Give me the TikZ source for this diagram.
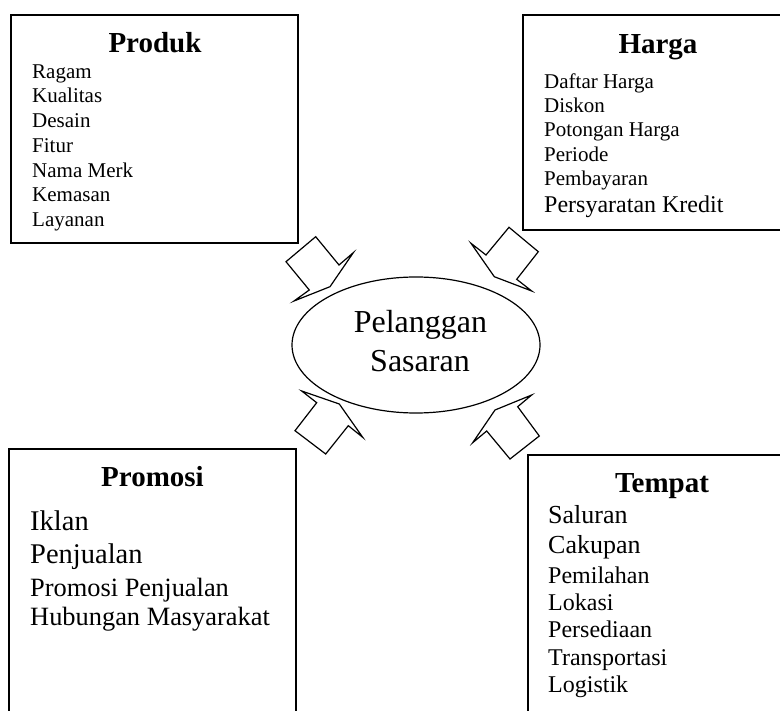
\documentclass[tikz,border=0pt]{standalone}
\usepackage{fontspec}
\setmainfont{Liberation Serif}
\usetikzlibrary{shapes.geometric}

\begin{document}
\begin{tikzpicture}[x=1pt,y=-1pt,
    kotak/.style={draw,line width=1.6pt,rectangle,inner sep=0pt},
    judul/.style={anchor=base,inner sep=0pt,font=\fontsize{29}{34}\selectfont\bfseries},
    isi/.style={anchor=base west,inner sep=0pt,font=\fontsize{21}{25}\selectfont},
    isibesar/.style={isi,font=\fontsize{26}{31}\selectfont},
    panah/.style={draw,line width=1.2pt,line join=miter,fill=white}]
    \useasboundingbox (0,0) rectangle (780,711);
    \clip (0,0) rectangle (780,711);

    % kotak bauran pemasaran
    \node[kotak,minimum width=287pt,minimum height=228pt] (produk) at (154.5,129) {};
    \node[kotak,minimum width=267pt,minimum height=215pt] (harga) at (656.5,122.5) {};
    \node[kotak,minimum width=287pt,minimum height=271pt] (promosi) at (152.5,584.5) {};
    \node[kotak,minimum width=262pt,minimum height=265pt] (tempat) at (659,587.5) {};

    \node[judul] (produkjudul) at (155,53) {Produk};
    \node[judul] (hargajudul) at (658,54) {Harga};
    \node[judul] (promosijudul) at (152.5,487) {Promosi};
    \node[judul] (tempatjudul) at (662,493) {Tempat};

    \foreach \teks/\y [count=\i] in {Ragam/79,Kualitas/103,Desain/128,Fitur/153,
        Nama Merk/178,Kemasan/202,Layanan/227}
        \node[isi] (produk\i) at (32,\y) {\teks};

    \foreach \teks/\y [count=\i] in {Daftar Harga/89,Diskon/113,Potongan Harga/137,
        Periode/162,Pembayaran/186}
        \node[isi] (harga\i) at (544,\y) {\teks};
    \node[isi,font=\fontsize{24}{29}\selectfont] (harga6) at (544,213) {Persyaratan Kredit};

    \node[isibesar,font=\fontsize{28.5}{34}\selectfont] (promosi1) at (30,530) {Iklan};
    \node[isibesar,font=\fontsize{28.5}{34}\selectfont] (promosi2) at (30,563) {Penjualan};
    \node[isibesar,font=\fontsize{26.4}{32}\selectfont] (promosi3) at (30,596) {Promosi Penjualan};
    \node[isibesar,font=\fontsize{26.4}{32}\selectfont] (promosi4) at (30,625) {Hubungan Masyarakat};

    \node[isibesar] (tempat1) at (548,523) {Saluran};
    \node[isibesar] (tempat2) at (548,553) {Cakupan};
    \foreach \teks/\y [count=\i from 3] in {Pemilahan/583,Lokasi/610,Persediaan/637,
        Transportasi/665,Logistik/692}
        \node[isi,font=\fontsize{24}{29}\selectfont] (tempat\i) at (548,\y) {\teks};

    % pelanggan sasaran di tengah
    \node[draw,ellipse,line width=1.2pt,minimum width=248pt,minimum height=136pt,
        inner sep=0pt] (pelanggan) at (416,345) {};
    \node[anchor=base,inner sep=0pt,font=\fontsize{32}{38}\selectfont]
        (pelanggan1) at (420.5,333) {Pelanggan};
    \node[anchor=base,inner sep=0pt,font=\fontsize{32}{38}\selectfont]
        (pelanggan2) at (420,372) {Sasaran};

    % panah blok ke arah pelanggan
    \draw[panah] (315.7,236.7) -- (339,265) -- (353.3,252.7) -- (330,286.7)
        -- (294,301) -- (309.3,290) -- (286,261.7) -- cycle;
    \draw[panah] (509,227.3) -- (538.3,251.7) -- (516.7,279.3) -- (531.7,291)
        -- (494.3,276.7) -- (471,243.3) -- (486,255) -- cycle;
    \draw[panah] (301.7,391) -- (339.3,404) -- (362.7,437.3) -- (348.3,425.7)
        -- (325.7,454) -- (295,430.7) -- (316.7,402.7) -- cycle;
    \draw[panah] (531.7,395) -- (517.7,406.7) -- (539.3,436) -- (510,459)
        -- (486.7,431) -- (472.7,442.7) -- (495,410) -- cycle;
\end{tikzpicture}
\end{document}
